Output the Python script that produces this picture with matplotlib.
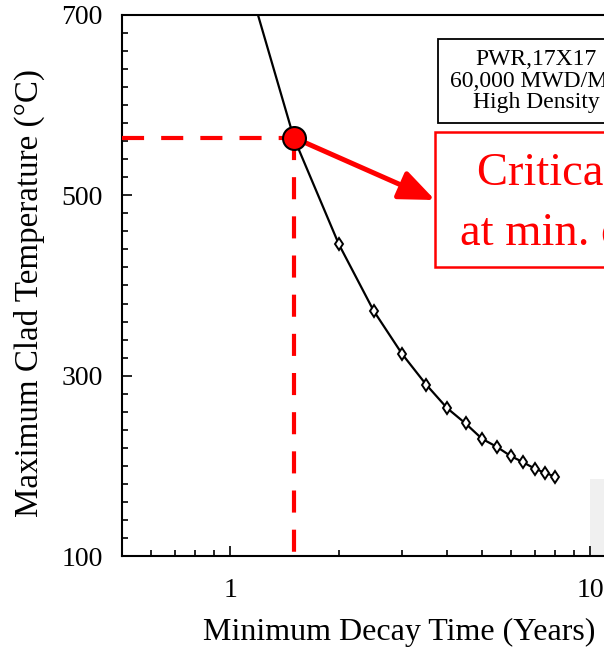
import matplotlib
matplotlib.use("Agg")
import matplotlib.pyplot as plt
from matplotlib.patches import Rectangle
from matplotlib.ticker import FixedLocator, NullFormatter, FixedFormatter
import numpy as np

# ---- data ----
decay_years = [1.0, 1.5, 2.0, 2.5, 3.0, 3.5, 4.0, 4.5, 5.0, 5.5, 6.0, 6.5, 7.0, 7.5, 8.0]
clad_temp_c = [805, 564, 446, 372, 324, 290, 264, 247, 230, 221, 211, 204, 197, 192, 188]
crit_x = 1.5
crit_y = 564
y_major = [100, 300, 500, 700]
y_major_labels = ["100", "300", "500", "700"]
x_major = [1, 10]
x_major_labels = ["1", "10"]
box_lines = ["PWR,17X17", "60,000 MWD/MT", "High Density"]
red_lines = ["Critical temperature", "at min. decay time"]
xlabel = "Minimum Decay Time (Years)"
ylabel = "Maximum Clad Temperature (\u00b0C)"

W, H = 604, 649
fig = plt.figure(figsize=(W / 100, H / 100), dpi=100)
serif = ["Liberation Serif", "DejaVu Serif"]
plt.rcParams["font.family"] = serif

def fx(px):
    return px / W

def fy(py):
    return 1 - py / H

# axes: x=0.5 at px 122, 360 px per decade, extends beyond the right edge
x_lo, x_hi = 0.5, 20.0
ax_w = 360 * np.log10(x_hi / x_lo)
ax = fig.add_axes([fx(122), fy(556), ax_w / W, 541 / H])
ax.patch.set_alpha(0)
ax.set_xscale("log")
ax.set_xlim(x_lo, x_hi)
ax.set_ylim(100, 700)

for s in ["left", "bottom", "top"]:
    ax.spines[s].set_linewidth(1.5)
ax.spines["right"].set_visible(False)

ax.yaxis.set_major_locator(FixedLocator(y_major))
ax.yaxis.set_major_formatter(FixedFormatter(y_major_labels))
ax.yaxis.set_minor_locator(FixedLocator(np.arange(100, 701, 20)))
ax.xaxis.set_major_locator(FixedLocator(x_major))
ax.xaxis.set_major_formatter(FixedFormatter(x_major_labels))
ax.xaxis.set_minor_locator(FixedLocator([0.6, 0.7, 0.8, 0.9, 2, 3, 4, 5, 6, 7, 8, 9, 20]))
ax.xaxis.set_minor_formatter(NullFormatter())
ax.tick_params(which="both", direction="in", top=False, right=False, width=1.2)
ax.tick_params(which="major", length=7.5)
ax.tick_params(which="minor", length=4)
ax.tick_params(axis="y", which="major", pad=14, labelsize=20)
ax.tick_params(axis="x", which="major", pad=16, labelsize=20)

# curve
ax.plot(decay_years, clad_temp_c, color="black", lw=1.6, marker="d", ms=6.5,
        mfc="white", mec="black", mew=1.4, zorder=3)

# red dashed guides
for xs, ys in [([x_lo, crit_x], [crit_y, crit_y]), ([crit_x, crit_x], [crit_y, 100])]:
    ln, = ax.plot(xs, ys, color="#ff0000", lw=3, zorder=4, solid_capstyle="butt")
    ln.set_dashes((5.3, 4.1))
    ln.set_dash_capstyle("butt")

ax.plot([crit_x], [crit_y], marker="o", ms=16.5, mfc="#ff0000", mec="black", mew=1.5,
        zorder=6, clip_on=False)

# arrow to the red box
ax.annotate("", xy=(fx(435), fy(200)), xycoords="figure fraction",
            xytext=(crit_x, crit_y), textcoords="data",
            arrowprops=dict(arrowstyle="-|>,head_length=0.6,head_width=0.25",
                            color="#ff0000", lw=3.6, mutation_scale=36,
                            shrinkA=9, shrinkB=0), zorder=5)

# grey scan patch
fig.add_artist(Rectangle((fx(590), fy(557)), fx(20), 78 / H, transform=fig.transFigure,
                         facecolor="#f0f0f0", edgecolor="none", zorder=-1))

# black info box
fig.add_artist(Rectangle((fx(438), fy(123)), fx(300), 84 / H, transform=fig.transFigure,
                         facecolor="white", edgecolor="black", lw=1.3, zorder=2))
for txt, base in zip(box_lines, [65, 87, 108]):
    fig.text(fx(536), fy(base), txt, ha="center", va="baseline", fontsize=17,
             color="black", zorder=3)

# red annotation box
fig.add_artist(Rectangle((fx(435), fy(267)), fx(300), 135 / H, transform=fig.transFigure,
                         facecolor="white", edgecolor="#ff0000", lw=1.8, zorder=2))
fig.text(fx(477), fy(185), red_lines[0], ha="left", va="baseline", fontsize=33.5,
         color="#ff0000", zorder=3)
fig.text(fx(460), fy(245), red_lines[1], ha="left", va="baseline", fontsize=33.5,
         color="#ff0000", zorder=3)

# axis labels
fig.text(fx(399), fy(632), xlabel, ha="center", va="center", fontsize=23)
fig.text(fx(29), fy(293), ylabel, ha="center", va="center", rotation=90, fontsize=23.8)

fig.savefig("out.png", dpi=100)
